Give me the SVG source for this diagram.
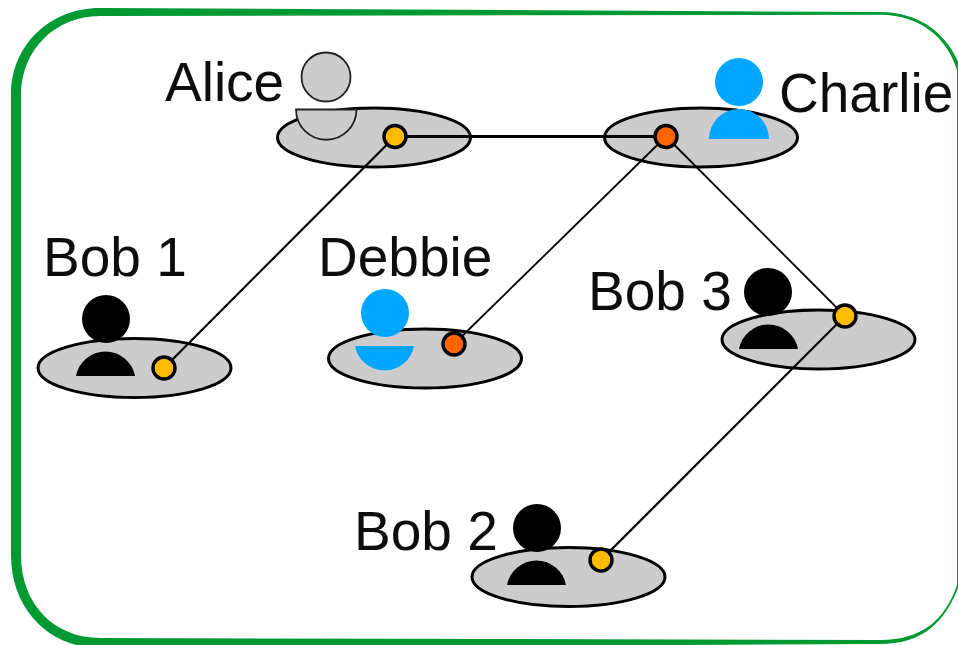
<svg xmlns="http://www.w3.org/2000/svg" width="958" height="645" viewBox="0 0 958 645">
<defs>
<filter id="soft" x="0" y="0" width="958" height="645" filterUnits="userSpaceOnUse"><feGaussianBlur stdDeviation="0.5"/></filter>
</defs>
<style>
.disc{fill:#ccc;stroke:#000;stroke-width:3}
.label{font-family:"Liberation Sans",Arial,sans-serif;font-size:55px;fill:#111}
.black{fill:#000}
.blue{fill:#00a6ff}
.ghost{fill:#ccc;stroke:#222;stroke-width:1.8}
.amber{fill:#ffbb00;stroke:#000;stroke-width:3.4}
.orange{fill:#ff6600;stroke:#000;stroke-width:3.4}
.link{stroke:#000;fill:none}
</style>
<rect width="958" height="645" fill="#fff"/>
<g filter="url(#soft)">
<g id="frame">
<path fill="#009933" fill-rule="evenodd" d="M11,95 C11,45 50,8 100,8 L880,12 C925,12 955,40 964,80 L964,570 C950,620 925,644 880,644 L100,648 C50,648 11,610 11,555 Z M21,95 C21,50 55,16 100,16 L880,14.700 C922,14.700 948,40 957,70 L957,585 C945,620 922,640 880,640 L100,638 C55,638 21,605 21,555 Z"/>
</g>
<g id="alice">
<ellipse class="disc" cx="374" cy="137.500" rx="96.500" ry="29.500"/>
<circle class="ghost" cx="326" cy="77" r="24.500"/>
<path class="ghost" d="M296,109.500 A30,30 0 0 0 356.500,109.500 Z"/>
<text class="label" x="165" y="101">Alice</text>
</g>
<g id="charlie">
<ellipse class="disc" cx="701" cy="137.500" rx="96.500" ry="29.500"/>
<circle class="blue" cx="739" cy="82" r="24"/>
<path class="blue" d="M709,139 A30,30 0 0 1 769,139 Z"/>
<text class="label" x="779" y="112">Charlie</text>
</g>
<g id="debbie">
<ellipse class="disc" cx="425" cy="358.500" rx="96.500" ry="29.500"/>
<circle class="blue" cx="385" cy="313" r="24"/>
<path class="blue" d="M355,346 A30,30 0 0 0 414,346 Z"/>
<text class="label" x="318" y="276">Debbie</text>
</g>
<g id="bob1">
<ellipse class="disc" cx="134.500" cy="368" rx="96.500" ry="29.500"/>
<circle class="black" cx="106" cy="319" r="24"/>
<path class="black" d="M76,376 A30,30 0 0 1 135,376 Z"/>
<text class="label" x="43" y="276">Bob 1</text>
</g>
<g id="bob2">
<ellipse class="disc" cx="568.500" cy="577" rx="96.500" ry="29.500"/>
<circle class="black" cx="537" cy="528" r="24"/>
<path class="black" d="M507,585 A30,30 0 0 1 566,585 Z"/>
<text class="label" x="354" y="550">Bob 2</text>
</g>
<g id="bob3">
<ellipse class="disc" cx="818.500" cy="339.500" rx="96.500" ry="29.500"/>
<circle class="black" cx="768" cy="292" r="24"/>
<path class="black" d="M739,349 A30,30 0 0 1 798,349 Z"/>
<text class="label" x="588" y="310">Bob 3</text>
</g>
<g id="connectors">
<line class="link" stroke-width="3" x1="395" y1="136.500" x2="666" y2="136.500"/>
<line class="link" stroke-width="2.200" x1="395" y1="136.500" x2="164" y2="368"/>
<line class="link" stroke-width="1.800" x1="666" y1="136.500" x2="454" y2="344"/>
<line class="link" stroke-width="1.800" x1="666" y1="136.500" x2="845" y2="316"/>
<line class="link" stroke-width="2.200" x1="845" y1="316" x2="601" y2="560"/>
</g>
<g id="ports">
<circle class="amber" cx="395" cy="136.500" r="11"/>
<circle class="orange" cx="666" cy="136.500" r="11"/>
<circle class="orange" cx="454" cy="344" r="11"/>
<circle class="amber" cx="164" cy="368" r="11"/>
<circle class="amber" cx="601" cy="560" r="11"/>
<circle class="amber" cx="845" cy="316" r="11"/>
</g>
</g>
</svg>
